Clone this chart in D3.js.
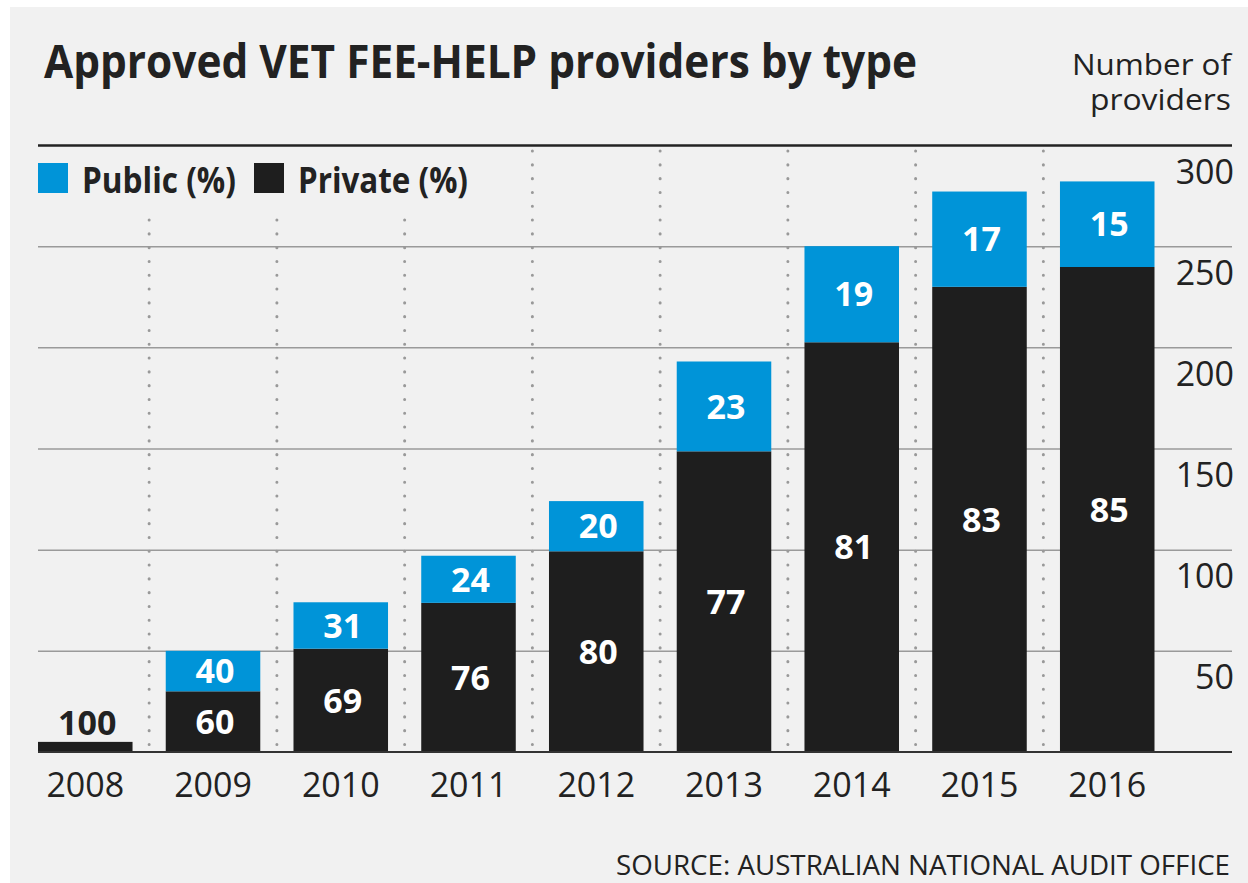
<!DOCTYPE html>
<html>
<head>
<meta charset="utf-8">
<script src="https://cdnjs.cloudflare.com/ajax/libs/d3/7.8.5/d3.min.js"></script>
<style>
  html, body { margin: 0; padding: 0; background: #ffffff; }
  svg { display: block; }
  text { font-family: "Open Sans", "Noto Sans", sans-serif; }
</style>
</head>
<body>
<svg id="chart" width="1248" height="883"></svg>
<script>
// ---- data ----
const years = ["2008", "2009", "2010", "2011", "2012", "2013", "2014", "2015", "2016"];
const totalProviders = [5, 50, 74, 97, 124, 193, 250, 277, 282];
const publicPct = [0, 40, 31, 24, 20, 23, 19, 17, 15];
const privatePct = [100, 60, 69, 76, 80, 77, 81, 83, 85];
const yTicks = [50, 100, 150, 200, 250, 300];
const titleText = "Approved VET FEE-HELP providers by type";
const unitLines = ["Number of", "providers"];
const legendLabels = ["Public (%)", "Private (%)"];
const sourceText = "SOURCE: AUSTRALIAN NATIONAL AUDIT OFFICE";

const colors = { public: "#0094d8", private: "#1e1e1e", bg: "#f1f1f1", text: "#222222", grid: "#9a9a9a" };

const rows = years.map((yr, i) => {
  const priv = totalProviders[i] * privatePct[i] / 100;
  return { year: yr, total: totalProviders[i], priv: priv, pub: totalProviders[i] - priv,
           pubPct: publicPct[i], privPct: privatePct[i] };
});

const svg = d3.select("#chart");

// background
svg.append("rect").attr("x", 10).attr("y", 7).attr("width", 1238).attr("height", 876).attr("fill", colors.bg);

const left = 38, right = 1232, plotTop = 145, plotBottom = 752;

const x = d3.scaleBand().domain(years).range([38, 1154.5]).paddingInner(0.26).paddingOuter(0);
const y = d3.scaleLinear().domain([0, 300]).range([plotBottom, plotTop]);

// title
svg.append("text").attr("x", 44).attr("y", 78).attr("font-size", 46).attr("font-weight", 700)
  .attr("fill", colors.text).attr("textLength", 873).attr("lengthAdjust", "spacingAndGlyphs").text(titleText);

// unit label
svg.append("text").attr("x", 1231).attr("y", 75).attr("text-anchor", "end").attr("font-size", 30)
  .attr("fill", colors.text).attr("textLength", 159).attr("lengthAdjust", "spacingAndGlyphs").text(unitLines[0]);
svg.append("text").attr("x", 1231).attr("y", 110).attr("text-anchor", "end").attr("font-size", 30)
  .attr("fill", colors.text).attr("textLength", 141).attr("lengthAdjust", "spacingAndGlyphs").text(unitLines[1]);

// y axis (gridlines + labels) via d3 axis
const yAxis = d3.axisRight(y).tickValues(yTicks).tickSize(-(right - left)).tickFormat(d3.format("d"));
const gy = svg.append("g").attr("transform", `translate(${right},0)`).call(yAxis);
gy.select(".domain").remove();
gy.selectAll(".tick line")
  .attr("stroke", d => d === 300 ? "#222" : colors.grid)
  .attr("stroke-width", d => d === 300 ? 2.5 : 1.5);
gy.selectAll(".tick text")
  .attr("x", 2).attr("dy", null).attr("y", 38)
  .attr("text-anchor", "end").attr("font-size", 34).attr("fill", colors.text)
  .style("font-family", '"Open Sans", sans-serif');

// dotted separators between bars
const step = x.step(), bw = x.bandwidth();
svg.append("g").selectAll("line").data(years.slice(0, -1)).join("line")
  .attr("x1", d => x(d) + bw + (step - bw) / 2).attr("x2", d => x(d) + bw + (step - bw) / 2)
  .attr("y1", 151).attr("y2", plotBottom)
  .attr("stroke", "#999").attr("stroke-width", 3).attr("stroke-linecap", "round")
  .attr("stroke-dasharray", "0.1 13.7");

// legend background (hides separators under the legend)
svg.append("rect").attr("x", left).attr("y", 147).attr("width", 442).attr("height", 63).attr("fill", colors.bg);

// legend
const legend = svg.append("g");
legend.append("rect").attr("x", 38).attr("y", 163).attr("width", 30).attr("height", 30).attr("fill", colors.public);
legend.append("text").attr("x", 82).attr("y", 193).attr("font-size", 35).attr("font-weight", 700).attr("fill", colors.text)
  .attr("textLength", 154).attr("lengthAdjust", "spacingAndGlyphs").text(legendLabels[0]);
legend.append("rect").attr("x", 254).attr("y", 163).attr("width", 30).attr("height", 30).attr("fill", colors.private);
legend.append("text").attr("x", 298).attr("y", 193).attr("font-size", 35).attr("font-weight", 700).attr("fill", colors.text)
  .attr("textLength", 170).attr("lengthAdjust", "spacingAndGlyphs").text(legendLabels[1]);

// bars
const bars = svg.append("g");
bars.selectAll("rect.priv").data(rows).join("rect").attr("class", "priv")
  .attr("x", d => x(d.year)).attr("width", bw)
  .attr("y", d => y(d.priv)).attr("height", d => y(0) - y(d.priv))
  .attr("fill", colors.private);
bars.selectAll("rect.pub").data(rows.filter(d => d.pub > 0)).join("rect").attr("class", "pub")
  .attr("x", d => x(d.year)).attr("width", bw)
  .attr("y", d => y(d.total)).attr("height", d => y(d.priv) - y(d.total))
  .attr("fill", colors.public);

// baseline
svg.append("line").attr("x1", left).attr("x2", right).attr("y1", y(0)).attr("y2", y(0))
  .attr("stroke", "#333").attr("stroke-width", 2);

// bar labels
const lab = svg.append("g").attr("font-size", 34).attr("font-weight", 700).attr("text-anchor", "middle");
lab.selectAll("text.pl").data(rows.filter(d => d.pub > 0)).join("text").attr("class", "pl")
  .attr("x", d => x(d.year) + bw / 2 + 2)
  .attr("y", d => (y(d.total) + y(d.priv)) / 2).attr("dy", "0.36em")
  .attr("fill", "#ffffff").text(d => d.pubPct);
lab.selectAll("text.vl").data(rows).join("text").attr("class", "vl")
  .attr("x", d => x(d.year) + bw / 2 + 2)
  .attr("y", d => d.total < 20 ? y(d.total) - 7 : (y(d.priv) + y(0)) / 2)
  .attr("dy", d => d.total < 20 ? 0 : "0.36em")
  .attr("fill", d => d.total < 20 ? colors.text : "#ffffff").text(d => d.privPct);

// x axis labels via d3 axis
const xAxis = d3.axisBottom(x).tickSize(0).tickPadding(0);
const gx = svg.append("g").attr("transform", `translate(0,${plotBottom})`).call(xAxis);
gx.select(".domain").remove();
gx.selectAll(".tick text").attr("y", 45).attr("dy", null)
  .attr("font-size", 34).attr("fill", colors.text)
  .style("font-family", '"Open Sans", sans-serif');

// source
svg.append("text").attr("x", 1230).attr("y", 875).attr("text-anchor", "end").attr("font-size", 28)
  .attr("fill", colors.text).attr("textLength", 614).attr("lengthAdjust", "spacingAndGlyphs").text(sourceText);
</script>
</body>
</html>
